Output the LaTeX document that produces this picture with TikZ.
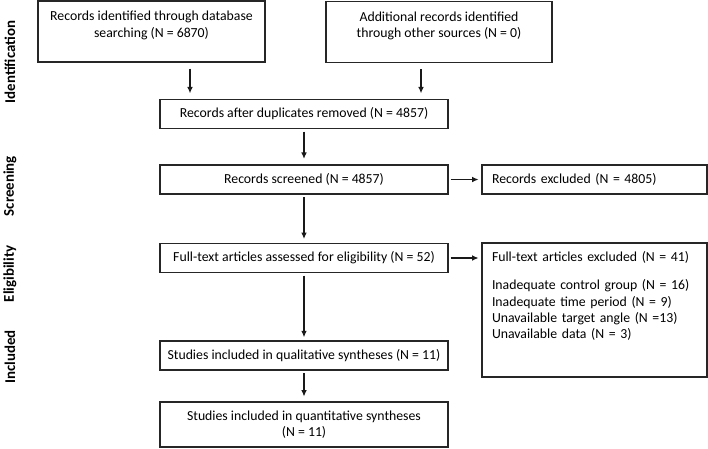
\documentclass[tikz,border=0pt]{standalone}
\usepackage{fontspec}
\setmainfont{Carlito}
\usetikzlibrary{arrows.meta}

\begin{document}
\begin{tikzpicture}[
    every node/.append style={font=\fontsize{9.8}{11.6}\selectfont},
    stage/.style={rectangle, draw=black!85, line width=1pt, minimum width=7.2cm, minimum height=0.72cm, align=center},
    topbox/.style={rectangle, draw=black!85, line width=1pt, inner ysep=0pt, text height=0.9cm, text depth=0.625cm},
    sidebox/.style={rectangle, draw=black!85, line width=1pt, inner xsep=0.25cm, text width=5.125cm, align=left},
    phase/.style={rotate=90, font=\fontsize{10.6}{12}\selectfont\bfseries},
    arr/.style={-{Latex[length=4.5pt,width=4pt]}, line width=0.75pt, black!90}
]
    \useasboundingbox (0,0) rectangle (17.7,-11.2);

    % Identification
    \node[topbox, minimum width=5.675cm, align=center] (database) at (3.7875,-0.7875) {Records identified through database\\searching (N = 6870)};
    \node[topbox, minimum width=5.65cm, align=center] (othersrc) at (10.975,-0.8) {Additional records identified\\through other sources (N = 0)};
    \node[stage] (duplicates) at (7.6,-2.85) {Records after duplicates removed (N = 4857)};

    % Screening
    \node[stage] (screened) at (7.6,-4.4875) {Records screened (N = 4857)};
    \node[sidebox, minimum height=0.72cm] (recexcl) at (14.8625,-4.4875) {Records excluded (N = 4805)};

    % Eligibility
    \node[stage] (fulltext) at (7.6,-6.45) {Full-text articles assessed for eligibility (N = 52)};
    \node[sidebox, inner ysep=0pt, text height=0.45cm, text depth=2.9cm] (ftexcl) at (14.8625,-7.75) {Full-text articles excluded (N = 41)\\[0.31cm]
        Inadequate control group (N = 16)\\
        Inadequate time period (N = 9)\\
        Unavailable target angle (N =13)\\
        Unavailable data (N = 3)};

    % Included
    \node[stage] (qualit) at (7.6,-8.8875) {Studies included in qualitative syntheses (N = 11)};
    \node[stage, minimum height=1.125cm] (quantit) at (7.6,-10.6125) {Studies included in quantitative syntheses\\(N = 11)};

    % Etiquetas de fases
    \node[phase] (phaseid) at (0.25,-1.55) {Identification};
    \node[phase] (phasescr) at (0.25,-4.65) {Screening};
    \node[phase] (phaseelig) at (0.25,-6.85) {Eligibility};
    \node[phase] (phaseinc) at (0.25,-8.925) {Included};

    % Flechas
    \coordinate (dbout) at ([xshift=0.9625cm]database.south);
    \coordinate (osout) at ([xshift=-0.45cm]othersrc.south);
    \draw[arr, shorten <=0.15cm, shorten >=0.14cm] (dbout) -- (dbout |- duplicates.north);
    \draw[arr, shorten <=0.15cm, shorten >=0.14cm] (osout) -- (osout |- duplicates.north);
    \draw[arr, shorten <=0.06cm, shorten >=0.14cm] (duplicates) -- (screened);
    \draw[arr, shorten <=0.06cm, shorten >=0.1cm] (screened) -- (fulltext);
    \draw[arr, shorten <=0.06cm, shorten >=0.08cm] (fulltext) -- (qualit);
    \draw[arr, shorten <=0.06cm, shorten >=0.12cm] (qualit) -- (quantit);
    \draw[arr, shorten <=0.05cm, shorten >=0.07cm] (screened) -- (recexcl);
    \draw[arr, shorten <=0.05cm, shorten >=0.07cm] (fulltext) -- (fulltext -| ftexcl.west);

\end{tikzpicture}
\end{document}
